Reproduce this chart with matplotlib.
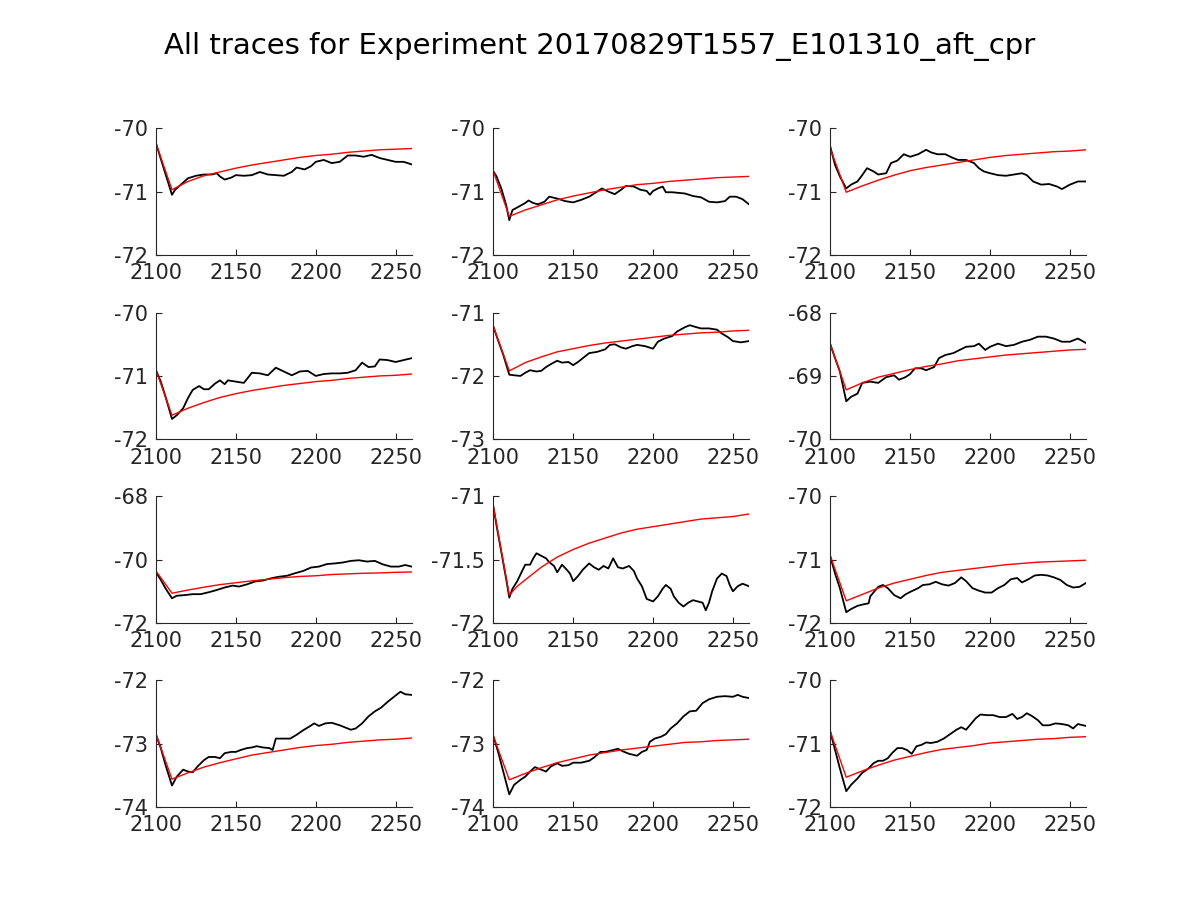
import matplotlib
matplotlib.use("Agg")
import matplotlib.pyplot as plt
from matplotlib.ticker import FixedLocator, FuncFormatter

plt.rcParams['font.family'] = ['DejaVu Sans']
plt.rcParams['axes.unicode_minus'] = False

TITLE = "All traces for Experiment 20170829T1557_E101310_aft_cpr"
X_TICKS = [2100, 2150, 2200, 2250]
X_LIM = (2100, 2260)

# ---- Panel 1 ----
p1_bx = [2100, 2110, 2112, 2120, 2125, 2130, 2135, 2138, 2140, 2143, 2147, 2150, 2155, 2160, 2165, 2170, 2175, 2180,
         2185, 2188, 2193, 2197, 2200, 2205, 2210, 2215, 2220, 2225, 2230, 2235, 2240, 2245, 2250, 2255, 2260]
p1_by = [-70.24, -71.05, -70.97, -70.79, -70.75, -70.73, -70.73, -70.71, -70.76, -70.81, -70.78, -70.74, -70.75,
         -70.74, -70.69, -70.73, -70.74, -70.75, -70.69, -70.62, -70.65, -70.60, -70.53, -70.50, -70.55, -70.53,
         -70.43, -70.43, -70.45, -70.42, -70.47, -70.50, -70.53, -70.53, -70.57]
p1_ry = [-70.24, -70.97, -70.84, -70.75, -70.69, -70.63, -70.58, -70.54, -70.50, -70.46, -70.43, -70.41, -70.38,
         -70.36, -70.34, -70.33, -70.32]

# ---- Panel 2 ----
p2_bx = [2100, 2102, 2105, 2108, 2110, 2112, 2115, 2120, 2122, 2125, 2128, 2132, 2135, 2140, 2145, 2150, 2155, 2160,
         2165, 2168, 2172, 2176, 2180, 2183, 2188, 2192, 2196, 2198, 2200, 2203, 2206, 2208, 2212, 2220, 2225, 2230,
         2235, 2240, 2245, 2248, 2252, 2256, 2260]
p2_by = [-70.68, -70.76, -70.95, -71.21, -71.45, -71.29, -71.25, -71.18, -71.14, -71.18, -71.20, -71.16, -71.08,
         -71.11, -71.15, -71.17, -71.13, -71.08, -71.00, -70.95, -71.00, -71.04, -70.97, -70.91, -70.92, -70.97,
         -70.99, -71.05, -70.99, -70.95, -70.92, -71.01, -71.01, -71.03, -71.07, -71.09, -71.16, -71.17, -71.15,
         -71.08, -71.08, -71.12, -71.20]
p2_ry = [-70.68, -71.39, -71.29, -71.21, -71.13, -71.07, -71.02, -70.97, -70.93, -70.89, -70.87, -70.84, -70.82,
         -70.80, -70.78, -70.77, -70.76]

# ---- Panel 3 ----
p3_bx = [2100, 2103, 2106, 2110, 2113, 2117, 2120, 2123, 2127, 2130, 2135, 2138, 2142, 2146, 2150, 2155, 2160, 2163,
         2167, 2172, 2176, 2180, 2185, 2190, 2193, 2196, 2200, 2205, 2210, 2215, 2220, 2223, 2227, 2232, 2237, 2242,
         2245, 2250, 2255, 2260]
p3_by = [-70.29, -70.58, -70.76, -70.95, -70.89, -70.84, -70.74, -70.63, -70.68, -70.73, -70.71, -70.55, -70.51,
         -70.41, -70.45, -70.41, -70.34, -70.38, -70.41, -70.41, -70.46, -70.50, -70.50, -70.55, -70.63, -70.68,
         -70.71, -70.74, -70.75, -70.73, -70.71, -70.74, -70.84, -70.89, -70.88, -70.92, -70.96, -70.89, -70.84,
         -70.84]
p3_ry = [-70.32, -71.01, -70.91, -70.82, -70.74, -70.67, -70.62, -70.58, -70.54, -70.50, -70.46, -70.43, -70.41,
         -70.39, -70.37, -70.36, -70.34]

# ---- Panel 4 ----
p4_bx = [2100, 2103, 2106, 2110, 2113, 2117, 2120, 2123, 2127, 2130, 2133, 2137, 2140, 2143, 2145, 2150, 2155, 2160,
         2165, 2170, 2175, 2180, 2185, 2190, 2195, 2200, 2205, 2210, 2215, 2220, 2225, 2229, 2233, 2237, 2240, 2245,
         2250, 2255, 2260]
p4_by = [-70.91, -71.09, -71.33, -71.68, -71.62, -71.51, -71.35, -71.22, -71.16, -71.21, -71.21, -71.12, -71.07,
         -71.13, -71.07, -71.09, -71.11, -70.95, -70.96, -70.99, -70.87, -70.93, -70.99, -70.93, -70.92, -71.00,
         -70.97, -70.96, -70.96, -70.95, -70.91, -70.79, -70.86, -70.85, -70.74, -70.75, -70.78, -70.75, -70.72]
p4_ry = [-70.91, -71.62, -71.51, -71.42, -71.34, -71.28, -71.23, -71.19, -71.15, -71.12, -71.09, -71.07, -71.04,
         -71.02, -71.00, -70.99, -70.97]

# ---- Panel 5 ----
p5_bx = [2100, 2103, 2106, 2110, 2113, 2117, 2120, 2123, 2127, 2130, 2133, 2137, 2140, 2143, 2147, 2150, 2153, 2157,
         2160, 2165, 2170, 2173, 2176, 2180, 2183, 2187, 2190, 2195, 2200, 2203, 2207, 2212, 2215, 2220, 2223, 2227,
         2230, 2235, 2240, 2243, 2247, 2250, 2255, 2260]
p5_by = [-71.22, -71.44, -71.65, -71.98, -71.99, -72.00, -71.95, -71.91, -71.93, -71.92, -71.86, -71.80, -71.76,
         -71.79, -71.78, -71.83, -71.78, -71.70, -71.64, -71.62, -71.58, -71.51, -71.50, -71.55, -71.57, -71.53,
         -71.51, -71.53, -71.57, -71.46, -71.41, -71.37, -71.30, -71.23, -71.20, -71.23, -71.25, -71.25, -71.27,
         -71.33, -71.39, -71.45, -71.47, -71.45]
p5_ry = [-71.22, -71.92, -71.79, -71.70, -71.62, -71.57, -71.52, -71.48, -71.45, -71.42, -71.39, -71.36, -71.34,
         -71.32, -71.31, -71.29, -71.28]

# ---- Panel 6 ----
p6_bx = [2100, 2103, 2106, 2110, 2113, 2117, 2120, 2125, 2130, 2135, 2140, 2143, 2147, 2150, 2153, 2157, 2160, 2165,
         2168, 2172, 2177, 2181, 2185, 2190, 2193, 2197, 2200, 2205, 2210, 2215, 2220, 2225, 2230, 2235, 2240, 2245,
         2250, 2255, 2260]
p6_by = [-68.50, -68.72, -68.93, -69.40, -69.33, -69.28, -69.11, -69.09, -69.11, -69.02, -68.99, -69.06, -69.02,
         -68.97, -68.88, -68.88, -68.91, -68.86, -68.72, -68.67, -68.64, -68.59, -68.54, -68.53, -68.49, -68.59,
         -68.54, -68.49, -68.53, -68.51, -68.46, -68.43, -68.38, -68.38, -68.41, -68.46, -68.46, -68.41, -68.48]
p6_ry = [-68.50, -69.22, -69.11, -69.02, -68.96, -68.90, -68.85, -68.81, -68.76, -68.73, -68.70, -68.67, -68.65,
         -68.63, -68.61, -68.59, -68.58]

# ---- Panel 7 ----
p7_bx = [2100, 2103, 2106, 2110, 2113, 2118, 2123, 2128, 2133, 2138, 2143, 2148, 2152, 2157, 2162, 2167, 2172, 2177,
         2182, 2187, 2192, 2197, 2202, 2207, 2212, 2217, 2222, 2227, 2232, 2237, 2242, 2247, 2252, 2256, 2260]
p7_by = [-70.40, -70.64, -70.91, -71.22, -71.14, -71.12, -71.09, -71.09, -71.03, -70.96, -70.88, -70.82, -70.85,
         -70.78, -70.69, -70.66, -70.59, -70.54, -70.51, -70.43, -70.36, -70.25, -70.22, -70.14, -70.12, -70.09,
         -70.04, -70.02, -70.06, -70.04, -70.15, -70.22, -70.22, -70.17, -70.22]
p7_ry = [-70.36, -71.06, -70.96, -70.87, -70.79, -70.73, -70.67, -70.62, -70.57, -70.53, -70.51, -70.47, -70.45,
         -70.43, -70.42, -70.40, -70.39]

# ---- Panel 8 ----
p8_bx = [2100, 2102, 2105, 2108, 2110, 2112, 2115, 2118, 2120, 2123, 2125, 2127, 2130, 2133, 2135, 2138, 2140, 2143,
         2146, 2148, 2150, 2153, 2156, 2160, 2163, 2166, 2169, 2172, 2175, 2178, 2181, 2185, 2188, 2190, 2193, 2196,
         2200, 2203, 2206, 2208, 2211, 2213, 2216, 2219, 2222, 2225, 2228, 2231, 2233, 2235, 2237, 2240, 2243, 2246,
         2248, 2250, 2253, 2256, 2260]
p8_by = [-71.08, -71.23, -71.44, -71.65, -71.80, -71.73, -71.67, -71.59, -71.54, -71.54, -71.49, -71.45, -71.47,
         -71.49, -71.52, -71.55, -71.60, -71.54, -71.58, -71.61, -71.67, -71.63, -71.58, -71.53, -71.56, -71.58,
         -71.55, -71.57, -71.49, -71.56, -71.57, -71.55, -71.59, -71.65, -71.71, -71.81, -71.83, -71.79, -71.73,
         -71.70, -71.73, -71.79, -71.84, -71.87, -71.84, -71.82, -71.83, -71.84, -71.90, -71.84, -71.75, -71.65,
         -71.61, -71.63, -71.70, -71.75, -71.71, -71.69, -71.71]
p8_rx = [2100, 2110, 2115, 2120, 2125, 2130, 2135, 2140, 2145, 2150, 2160, 2170, 2180, 2190, 2200, 2210, 2220, 2230,
         2240, 2250, 2260]
p8_ry = [-71.08, -71.78, -71.71, -71.66, -71.61, -71.56, -71.52, -71.48, -71.45, -71.42, -71.37, -71.33, -71.29,
         -71.26, -71.24, -71.22, -71.20, -71.18, -71.17, -71.16, -71.14]

# ---- Panel 9 ----
p9_bx = [2100, 2103, 2106, 2110, 2113, 2117, 2120, 2124, 2125, 2128, 2130, 2133, 2136, 2140, 2144, 2147, 2150, 2155,
         2158, 2162, 2166, 2170, 2174, 2178, 2182, 2185, 2189, 2193, 2197, 2201, 2205, 2209, 2213, 2217, 2220, 2224,
         2228, 2232, 2236, 2240, 2244, 2248, 2252, 2256, 2260]
p9_by = [-70.95, -71.22, -71.45, -71.83, -71.78, -71.73, -71.71, -71.69, -71.58, -71.49, -71.43, -71.40, -71.45,
         -71.56, -71.61, -71.55, -71.51, -71.45, -71.40, -71.39, -71.35, -71.39, -71.41, -71.37, -71.28, -71.34,
         -71.45, -71.49, -71.52, -71.52, -71.45, -71.40, -71.31, -71.29, -71.36, -71.31, -71.25, -71.24, -71.25,
         -71.28, -71.32, -71.40, -71.44, -71.43, -71.37]
p9_ry = [-70.94, -71.65, -71.55, -71.45, -71.37, -71.31, -71.25, -71.20, -71.17, -71.14, -71.11, -71.08, -71.06,
         -71.04, -71.03, -71.02, -71.01]

# ---- Panel 10 ----
p10_bx = [2100, 2103, 2106, 2110, 2113, 2117, 2120, 2123, 2126, 2130, 2133, 2137, 2140, 2143, 2147, 2150, 2153, 2157,
          2160, 2163, 2167, 2171, 2173, 2175, 2180, 2184, 2188, 2192, 2196, 2199, 2202, 2206, 2210, 2215, 2218, 2222,
          2225, 2229, 2233, 2237, 2241, 2245, 2249, 2253, 2256, 2260]
p10_by = [-72.86, -73.07, -73.34, -73.66, -73.52, -73.41, -73.44, -73.45, -73.36, -73.26, -73.21, -73.21, -73.23,
          -73.15, -73.13, -73.13, -73.10, -73.07, -73.06, -73.04, -73.06, -73.07, -73.10, -72.92, -72.92, -72.92,
          -72.86, -72.79, -72.73, -72.68, -72.72, -72.68, -72.67, -72.71, -72.74, -72.78, -72.76, -72.68, -72.57,
          -72.49, -72.43, -72.34, -72.26, -72.18, -72.22, -72.23]
p10_ry = [-72.85, -73.56, -73.46, -73.37, -73.30, -73.24, -73.18, -73.14, -73.10, -73.06, -73.03, -73.01, -72.98,
          -72.96, -72.94, -72.93, -72.91]

# ---- Panel 11 ----
p11_bx = [2100, 2103, 2106, 2110, 2113, 2117, 2120, 2123, 2126, 2130, 2133, 2136, 2140, 2143, 2147, 2150, 2155, 2160,
          2163, 2167, 2170, 2175, 2178, 2181, 2185, 2190, 2193, 2196, 2198, 2201, 2205, 2208, 2211, 2215, 2219, 2223,
          2227, 2231, 2235, 2240, 2245, 2250, 2253, 2256, 2260]
p11_by = [-72.88, -73.13, -73.42, -73.80, -73.65, -73.57, -73.52, -73.44, -73.37, -73.41, -73.44, -73.36, -73.31,
          -73.35, -73.34, -73.30, -73.30, -73.27, -73.22, -73.13, -73.13, -73.10, -73.08, -73.12, -73.16, -73.19,
          -73.13, -73.10, -72.97, -72.92, -72.89, -72.85, -72.76, -72.68, -72.57, -72.49, -72.48, -72.36, -72.30,
          -72.26, -72.25, -72.26, -72.23, -72.26, -72.28]
p11_ry = [-72.88, -73.57, -73.47, -73.38, -73.30, -73.24, -73.18, -73.14, -73.10, -73.07, -73.04, -73.01, -72.98,
          -72.97, -72.95, -72.94, -72.93]

# ---- Panel 12 ----
p12_bx = [2100, 2103, 2106, 2110, 2113, 2117, 2120, 2124, 2127, 2130, 2133, 2136, 2139, 2142, 2145, 2148, 2151, 2154,
          2157, 2160, 2163, 2167, 2171, 2175, 2179, 2182, 2185, 2188, 2191, 2194, 2198, 2202, 2206, 2210, 2214, 2217,
          2220, 2223, 2226, 2230, 2233, 2237, 2241, 2245, 2249, 2252, 2255, 2260]
p12_by = [-70.81, -71.10, -71.39, -71.75, -71.65, -71.55, -71.46, -71.39, -71.31, -71.27, -71.27, -71.23, -71.14,
          -71.07, -71.07, -71.10, -71.16, -71.04, -71.02, -70.98, -70.99, -70.97, -70.92, -70.85, -70.78, -70.74,
          -70.78, -70.69, -70.60, -70.54, -70.55, -70.55, -70.58, -70.58, -70.53, -70.61, -70.58, -70.52, -70.56,
          -70.63, -70.71, -70.71, -70.68, -70.69, -70.71, -70.76, -70.69, -70.72]
p12_ry = [-70.81, -71.53, -71.43, -71.34, -71.26, -71.20, -71.14, -71.09, -71.06, -71.03, -70.99, -70.97, -70.95,
          -70.93, -70.92, -70.90, -70.89]

fit_x = [2100, 2110, 2120, 2130, 2140, 2150, 2160, 2170, 2180, 2190, 2200, 2210, 2220, 2230, 2240, 2250, 2260]

y_ticks = [
    [-72, -71, -70], [-72, -71, -70], [-72, -71, -70],
    [-72, -71, -70], [-73, -72, -71], [-70, -69, -68],
    [-72, -70, -68], [-72, -71.5, -71], [-72, -71, -70],
    [-74, -73, -72], [-74, -73, -72], [-72, -71, -70],
]

panels = [
    (p1_bx, p1_by, fit_x, p1_ry), (p2_bx, p2_by, fit_x, p2_ry), (p3_bx, p3_by, fit_x, p3_ry),
    (p4_bx, p4_by, fit_x, p4_ry), (p5_bx, p5_by, fit_x, p5_ry), (p6_bx, p6_by, fit_x, p6_ry),
    (p7_bx, p7_by, fit_x, p7_ry), (p8_bx, p8_by, p8_rx, p8_ry), (p9_bx, p9_by, fit_x, p9_ry),
    (p10_bx, p10_by, fit_x, p10_ry), (p11_bx, p11_by, fit_x, p11_ry), (p12_bx, p12_by, fit_x, p12_ry),
]

fig = plt.figure(figsize=(12, 9), dpi=100)
fig.patch.set_facecolor('white')

lefts = [0.1300, 0.4111, 0.6919]
bottoms = [0.7167, 0.5119, 0.3078, 0.1033]
W, H = 0.2130, 0.1408
tick_color = '#262626'


def fmt(v, pos):
    if abs(v - round(v)) < 1e-9:
        return "%d" % int(round(v))
    return ("%g" % v)


for i, (bx, by, rx, ry) in enumerate(panels):
    r, c = divmod(i, 3)
    ax = fig.add_axes([lefts[c], bottoms[r], W, H])
    ax.plot(bx, by, color='black', lw=1.3)
    ax.plot(rx, ry, color='red', lw=1.0)
    ax.set_xlim(*X_LIM)
    yt = y_ticks[i]
    ax.set_ylim(yt[0], yt[-1])
    ax.xaxis.set_major_locator(FixedLocator(X_TICKS))
    ax.yaxis.set_major_locator(FixedLocator(yt))
    ax.yaxis.set_major_formatter(FuncFormatter(fmt))
    ax.xaxis.set_major_formatter(FuncFormatter(fmt))
    for s in ['top', 'right']:
        ax.spines[s].set_visible(False)
    for s in ['left', 'bottom']:
        ax.spines[s].set_color(tick_color)
        ax.spines[s].set_linewidth(0.8)
    ax.tick_params(direction='in', length=4, width=0.8, colors=tick_color,
                   labelsize=15, pad=6)

fig.text(0.5, 0.948, TITLE, ha='center', va='center', fontsize=21, color='black')

fig.savefig('out.png', dpi=100, facecolor='white')
